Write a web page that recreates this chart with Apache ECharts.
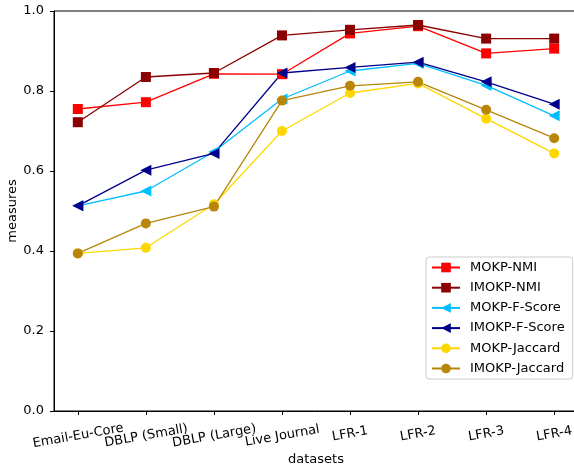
<!DOCTYPE html>
<html>
<head>
<meta charset="utf-8">
<script src="https://cdn.jsdelivr.net/npm/echarts@6/dist/echarts.min.js"></script>
<style>
html,body{margin:0;padding:0;background:#fff;}
#chart{width:574px;height:474px;}
</style>
</head>
<body>
<div id="chart"></div>
<script>
const categories = ['Email-Eu-Core', 'DBLP (Small)', 'DBLP (Large)', 'Live Journal', 'LFR-1', 'LFR-2', 'LFR-3', 'LFR-4'];
const yTicks = [0.0, 0.2, 0.4, 0.6, 0.8, 1.0];
const mokpNMI      = [0.755, 0.772, 0.843, 0.842, 0.944, 0.962, 0.894, 0.906];
const imokpNMI     = [0.722, 0.835, 0.845, 0.939, 0.953, 0.965, 0.931, 0.931];
const mokpFScore   = [0.513, 0.550, 0.648, 0.780, 0.850, 0.869, 0.814, 0.738];
const imokpFScore  = [0.513, 0.602, 0.644, 0.845, 0.859, 0.872, 0.823, 0.767];
const mokpJaccard  = [0.394, 0.408, 0.517, 0.700, 0.795, 0.819, 0.731, 0.644];
const imokpJaccard = [0.394, 0.469, 0.511, 0.776, 0.813, 0.823, 0.753, 0.682];

const seriesDefs = [
  {name: 'MOKP-NMI', data: mokpNMI, color: '#ff0000', symbol: 'rect', size: 10, rot: 0},
  {name: 'IMOKP-NMI', data: imokpNMI, color: '#8b0000', symbol: 'rect', size: 10, rot: 0},
  {name: 'MOKP-F-Score', data: mokpFScore, color: '#00bfff', symbol: 'triangle', size: 11, rot: 90},
  {name: 'IMOKP-F-Score', data: imokpFScore, color: '#00008b', symbol: 'triangle', size: 11, rot: 90},
  {name: 'MOKP-Jaccard', data: mokpJaccard, color: '#ffd700', symbol: 'circle', size: 10, rot: 0},
  {name: 'IMOKP-Jaccard', data: imokpJaccard, color: '#b8860b', symbol: 'circle', size: 10, rot: 0}
];
const catIdx = categories.map((c, i) => i);
const evenIdx = catIdx.filter(i => i % 2 === 0);
const oddIdx = catIdx.filter(i => i % 2 === 1);
const font = 'DejaVu Sans';

// long rotated labels sit a little lower (matplotlib aligns the rotated bbox top)
const labelFmt = v => {
  const t = categories[Math.round(v)];
  return (t.length > 8 ? '{long|' : '{short|') + t + '}';
};
const labelRich = {
  long: {fontFamily: font, fontSize: 13, color: '#000', padding: [4, 0, 0, 0]},
  short: {fontFamily: font, fontSize: 13, color: '#000'}
};

const xBase = {
  type: 'value', min: -0.35, max: 7.35, position: 'bottom', gridIndex: 0,
  splitLine: {show: false}
};

const chart = echarts.init(document.getElementById('chart'), null, {renderer: 'canvas'});
chart.setOption({
  animation: false,
  backgroundColor: '#fff',
  textStyle: {fontFamily: font},
  grid: {left: 54, top: 11, width: 524, height: 400, show: true, borderColor: '#000', borderWidth: 1,
    containLabel: false, outerBoundsMode: 'none'},
  xAxis: [
    Object.assign({}, xBase, {
      name: 'datasets', nameLocation: 'middle', nameGap: 42, nameMoveOverlap: false,
      nameTextStyle: {fontFamily: font, fontSize: 13, color: '#000'},
      axisLine: {show: true, onZero: false, lineStyle: {color: '#000', width: 1}},
      axisTick: {show: true, inside: false, length: 4, lineStyle: {color: '#000'}, customValues: catIdx},
      axisLabel: {
        customValues: evenIdx, rotate: 10, align: 'center', verticalAlign: 'middle', margin: 23,
        hideOverlap: false, fontFamily: font, fontSize: 13, color: '#000',
        formatter: labelFmt, rich: labelRich
      }
    }),
    Object.assign({}, xBase, {
      axisLine: {show: false, onZero: false},
      axisTick: {show: false},
      axisLabel: {
        customValues: oddIdx, rotate: 10, align: 'center', verticalAlign: 'middle', margin: 23,
        hideOverlap: false, fontFamily: font, fontSize: 13, color: '#000',
        formatter: labelFmt, rich: labelRich
      }
    })
  ],
  yAxis: {
    type: 'value', min: 0, max: 1, interval: 0.2,
    name: 'measures', nameLocation: 'middle', nameGap: 35, nameMoveOverlap: false,
    nameTextStyle: {fontFamily: font, fontSize: 13, color: '#000'},
    axisLine: {show: true, onZero: false, lineStyle: {color: '#000', width: 1}},
    splitLine: {show: false},
    axisTick: {show: true, inside: false, length: 4, lineStyle: {color: '#000'}},
    axisLabel: {fontFamily: font, fontSize: 13, color: '#000', margin: 10,
      formatter: v => v.toFixed(1)}
  },
  legend: {
    orient: 'vertical', left: 426, top: 257,
    padding: [4, 8, 4, 5],
    itemWidth: 28, itemHeight: 12, itemGap: 7.2,
    backgroundColor: 'rgba(255,255,255,0.85)', borderColor: '#cccccc', borderWidth: 1, borderRadius: 3,
    textStyle: {fontFamily: font, fontSize: 13, color: '#000', padding: [0, 0, 0, 5]},
    data: seriesDefs.map(s => s.name)
  },
  series: seriesDefs.map(s => ({
    name: s.name, type: 'line', xAxisIndex: 0, yAxisIndex: 0,
    data: s.data.map((v, i) => [i, v]),
    symbol: s.symbol, symbolSize: s.size, symbolRotate: s.rot,
    showSymbol: true,
    lineStyle: {color: s.color, width: 1.3},
    itemStyle: {color: s.color, borderWidth: 0},
    emphasis: {disabled: true}
  }))
});
</script>
</body>
</html>
